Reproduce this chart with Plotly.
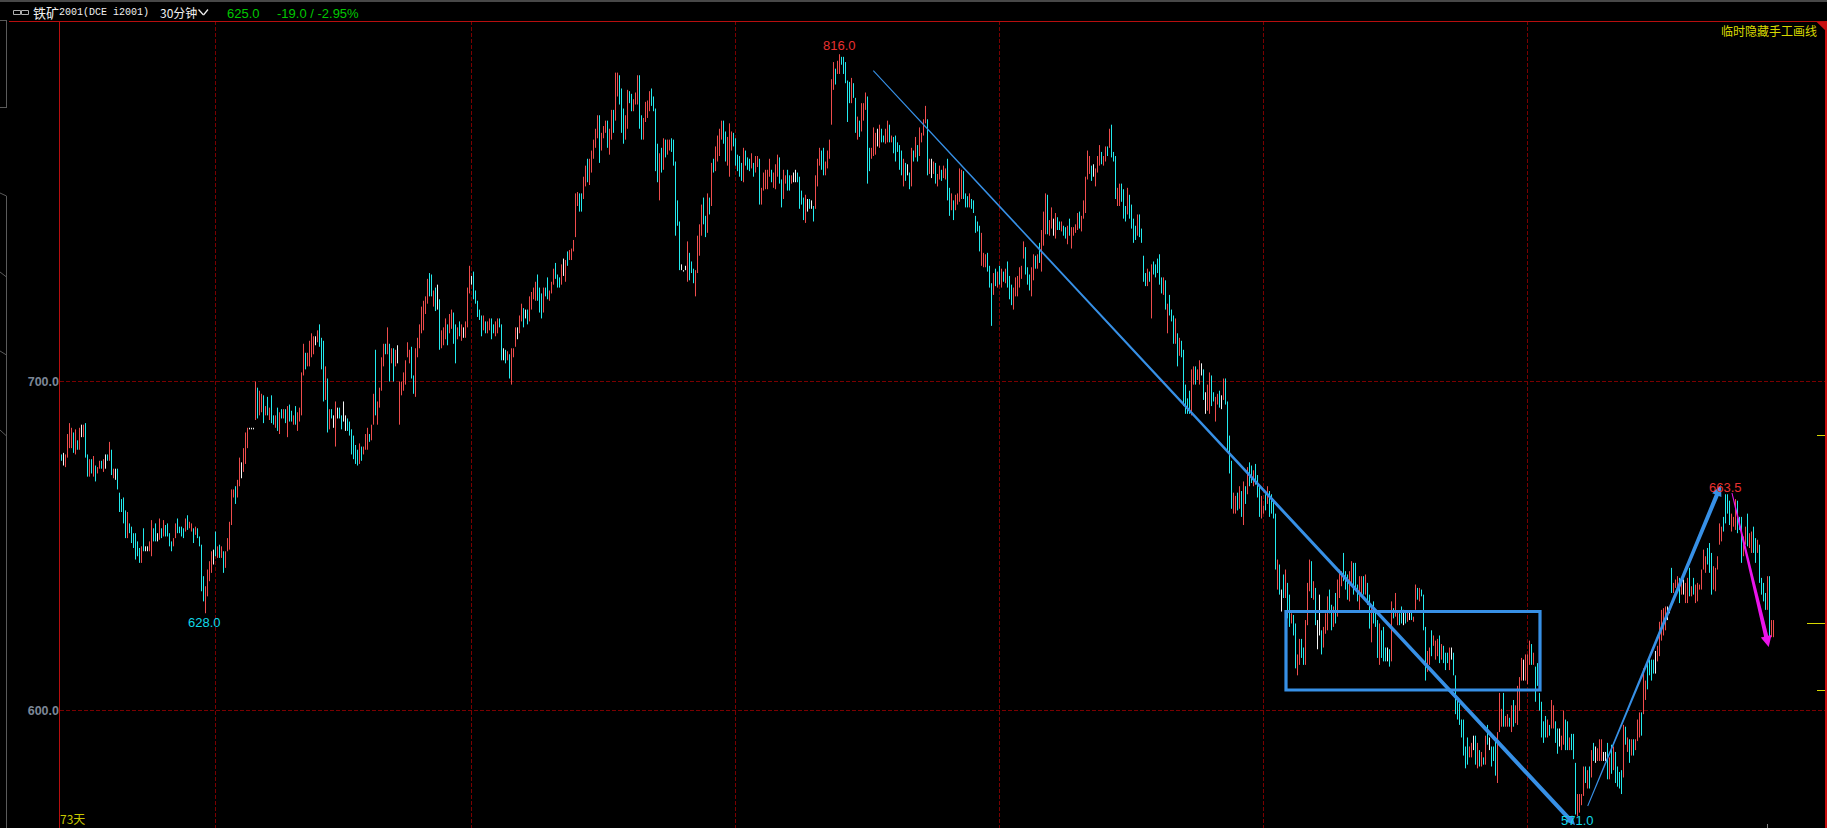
import math
import plotly.graph_objects as go

W, H = 1827, 828
L, T = 60, 21

# ---------- price data, segment by segment: highs, lows, and candle colour (r up, c down, w flat)
a_high = [676.5,677,676.5,683,686.5,685,683.5,684.5,681,685,
686,686,686.5,676.5,675,675,676,673,672.5,674.5,
674.5,675,676.5,676.5,680.5,678,672,672,672,664.5,
662.5,663,659,658.5,655,654,652,652,649.5,647.5,
648,653.5,648,648,649.5,656,653.5,655,652,656.5,
653.5,656,654.5,655,652,649.5,650.5,655,656.5,654,
654,653.5,656.5,657.5,655.5,655,653.5,654,653.5,651,
648.5,639,636,641,643.5,646.5,647,652.5,648,648.5,
648,646.5,646.5,650.5,655.5,665.5,665.5,666.5,668.5,675.5,
674,678.5,683.5,685,685,685,685,700,698,697,
696,695.5,692,695,691.5,695.5,689,689,691.5,690,
691,691,691,692,692.5]
a_low = [674.5,673,672.5,675.5,678.5,678.5,677,676.5,678,678,
682,682,675.5,669.5,669.5,670.5,669.5,668,670.5,672,
672,671,672,674.5,674.5,670,669,668.5,665.5,658.5,
658.5,655,650.5,650.5,652,649,647.5,644,645,643,
643,646.5,646.5,646.5,646.5,645,649.5,649.5,649.5,650,
650.5,651,651,651,648,646.5,648,650.5,652,652,
651,650.5,652.5,653,653.5,652.5,649,651.5,650.5,648,
634.5,631.5,628,633,637.5,640,642.5,645,644.5,644.5,
644.5,640,641.5,646.5,647,654.5,663,661,663,666.5,
669,671,673.5,678.5,684.5,684.5,684.5,687.5,688,689,
690,686.5,689,689,687.5,686.5,686,685,684,683,
688,688,686.5,682,687]
a_kind = ("cwrrrrcrcr" "wrccrcrcrr" "crwcrcrwcc" "cccrcccccc" "rcwwrrccwr" "crccccrrcc"
          "ccrcrrcrcc" "ccrrrrwcrc" "rcrrrrrcrr" "wrrrwwwrcr" "rcrcrccrcr" "crcrc")

b_high = [690.5,689,692,690,691.5,703,712.5,709.5,709.5,713.5,
716,715,715,717,719,714.5,713.5,705,701,691,
691,689,693.5,691.5,691.5,689,693.5,689,688,687,
684.5,682.5,679.5,678,680,679,679,683,685,683,
686,696,710.5,693.5,698,708,712.5,712.5,718,712.5,
711,711,710.5,712,700,700,703,707,713,710.5,
711.5,702,711,714.5,719,725,727,728.5,734.5,736.5,
736,730.5,731.5,732.5,727.5,717,718,721,719,722.5,
724,723,719,718,720,719,718,720,731.5,739,
735.5,737,730.5,727,724,722,722,720,720,721,
721,719,720,721,721,719,711,710.5,710,709,
711,711,718,718,722,726,724.5,724,724,728.5,
730,731.5,733.5,736,731.5,729.5,731.5,731.5,735,730.5,
733.5,738,740,736,735,739.5,741.5,741,744,744.5]
b_low = [687,686,686,684,687,689,702,704,705,705,
708,709,712,713,711.5,704,693.5,694,683.5,684.5,
688,685,679,688,688,684.5,687,684,684,682.5,
676.5,675,673.5,673,673.5,674.5,676.5,678,678,680.5,
681,686,689,686,691.5,697,705,709,709,700,
706,700,705,706,686,695.5,697,699,708,706,
701,696,695,708,711,716,717,722.5,726,728.5,
728.5,725,723.5,724,710.5,711,712,714,712,716,
717.5,712.5,706,714,715,713.5,714.5,714.5,718,729.5,
732.5,727.5,726,721.5,720.5,715,717,716,716,717,
714,716,715,716,718,707,707,706,707,701,
699,708,711.5,714,716,720,718,721,719,720,
724,727.5,727,727,723,721,723,728.5,727.5,727,
729.5,732.5,734.5,731.5,731.5,732.5,735.5,733.5,739,741]
b_kind = ("crcrrrrcrr" "rrwrcccrcr" "cwrwccwwcc" "ccccrcrrrc" "rrcrrrrcrc" "rcrwrrrrrr" "ccrrrrrrrc"
          "crcwcrrrcr" "rccrcrwrrr" "wcccccrcrr" "ccrrccwcrc" "rrrwrrcwcr" "rrrcccrccr" "rrcccrwrcr")

c_high = [745,748,764.5,765,764.5,764.5,770.5,774.5,777,777,
780,784,788,793,793,786.5,789,791,791,788,
795,795,809,809,808,803,795.5,793,802.5,802,
801,799,801.5,808,808,793,792,798,798.5,802,
803,800,795.5,782.5,779,781,784.5,784,784,784,
784.5,784,776,762,754.5,739.5,737.5,739,747.5,743.5,
740.5,738,737.5,749.5,753.5,760.5,763,756.5,764.5,763,
775.5,777,781.5,785.5,788,791,791,787,785,790,
787,786.5,784.5,778.5,778,775.5,781,780,777.5,777,
779,775.5,778,778,777,766.5,772,773,773,777,
773,772,775,778.5,777.5,769.5,773,771,773,771,
771,772,773,772,770.5,765.5,763,764,762.5,762.5,
762,760,771,777,781,780,781,776,780,784]
c_low = [741,744,749,760,758,758,762.5,767,768.5,767.5,
772,777,781,784.5,775.5,780,784.5,786.5,781,778.5,
784,786.5,791,800,797,786.5,782.5,784,788,797.5,
794.5,794.5,797,797,788,784,784,790.5,792,794.5,
796.5,794.5,772.5,768.5,762,772,773,777.5,778.5,780,
779.5,774.5,749.5,753,737.5,737.5,737,737.5,733.5,734,
736.5,733,728.5,736.5,742.5,749.5,753.5,749,750.5,757,
760,772,772.5,776,778,784,782.5,776,774.5,770.5,
780,781.5,774.5,772.5,770.5,769,768.5,774.5,773,772.5,
773.5,770.5,772,774,760.5,760.5,765.5,766,766,770.5,
768.5,766.5,766,770.5,768,759.5,762.5,768,765.5,765.5,
768,768.5,768.5,768.5,759,760.5,755,754,758,759,
759,754.5,759,767,774.5,773,771,771,773.5,777]
c_kind = ("rrrrccrrcr" "rrrrcrrrcr" "rcrrcccrrc" "crrrccrrrr" "ccccrcrcrr" "cccccwwwrc" "ccrrrrccrc"
          "rcrrrrccrr" "rcccccrccc" "rcrrcrrrrr" "crrrccrrcc" "rwwccccrwc" "wcrrrccrrr")

d_high = [806.5,813,810.5,813.5,816,815,815,813,806,805.5,
807,805,799.5,792.5,791,797.5,797.5,801.5,800,781,
781,788.5,786.5,788,789.5,788,785.5,788,791,789.5,
785.5,785,785.5,783,782,780,777,775.5,775,772,
781,780,785,782,788.5,786.5,791.5,796.5,791.5,777,
777,776,775.5,771.5,774.5,773,774.5,773.5]
d_low = [789.5,802.5,804.5,808.5,808.5,812,808.5,805,790.5,797.5,
797.5,799.5,786.5,784,785,787,791,795,768,772.5,
777,778,778.5,781.5,781,783,783,782.5,783,783,
783,779,776,779.5,773,771,767,769,771,766,
767,776,777.5,776,778,783,785.5,790,771,771.5,
770,771.5,768,767,769.5,769,770,769.5]
d_kind = ("rrcrrccccc" "rccrcrrrcc" "rrrwrccrrc" "rcccccrcwc" "rcrcrrrrcr" "wrcrrcrr")

e_high = [777,766.5,764.5,762,764,764.5,773.5,773,772.5,764.5,
763.5,764.5,762.5,762,756.5,754.5,753,750.5,743.5,743,
743.5,739,733,736.5,738,737,739,738,737,738,
740.5,735.5,732.5,731.5,735,735.5,738.5,739,747.5,745.5,
738.5,736,738.5,743,742.5,743,747,751.5,758,764.5,
764,755,759.5,755.5,757.5,756,754.5,754.5,753,752.5,
753,755.5,752.5,752.5,753.5,757.5,758,756.5,762,770.5,
780,778,774.5,775,773.5,778,782,779.5,778,781.5,
781.5,788,789.5,779.5,778,766.5,768,768,766,760,
766.5,764,760.5,755.5,753,757,757,752]
e_low = [762,756.5,758.5,755,758.5,760.5,761.5,762.5,762.5,759.5,
759.5,759.5,759,757.5,750.5,751,744,739,738.5,738.5,
737,731.5,718.5,729,732,731.5,732.5,731.5,733.5,733,
731.5,727.5,725.5,724,728.5,728.5,731.5,734.5,741.5,736,
732.5,730.5,728.5,734,738,738,740,737,746,750,
750,749.5,752,749.5,748.5,751.5,751.5,751,749.5,748.5,
746.5,749.5,745,749.5,750.5,751.5,752,751,755.5,757.5,
769.5,771.5,769,770.5,767,772,774.5,775,774.5,776,
778,781,777.5,776,762.5,760,760,761.5,755.5,754.5,
757,755.5,752,747,748,749.5,749,747]
e_kind = ("ccrcrrrrcc" "crcccccrrr" "cccrcrcrcr" "cccrrrrrrc" "ccrrcrcrrr"
          "crrwrccrcc" "rcrrrrcrrr" "rrcwrrrcrr" "crcccrrccc" "rccccrcc")

f_high = [742.5,736.5,738,737,739.5,740.5,739.5,741.5,743,735,
735,734,726,729,724,722,721,716,714.5,713.5,
710.5,699,694.5,697,704,705,705,704,707,706,
704,696.5,699,703,702,696.5,695,696,697,695.5,
701,701,693.5,682.5,674.5,664.5,663.5,664.5,666.5,665,
668,666.5,672.5,674,673,671.5,673.5,670,667,663.5,
660.5,664,666.5,665,664,662.5]
f_low = [733.5,732,732,733.5,721,736,735,736.5,732.5,729.5,
729,724,716,722,720,712.5,712.5,705,708.5,708,
692,689.5,689.5,689.5,689,699,699,700.5,699,702,
694,689.5,690.5,689.5,692,693.5,687,692.5,691.5,691,
694,692.5,677,670.5,659.5,658,658,659,659.5,657,
654.5,661,664,666.5,667.5,666.5,667,663,657,656.5,
658,659,661,657,658,656.5]
f_kind = ("ccrcrccccc" "rcrcccrcrc" "ccccrrcrrw" "cwrrccrrcw" "rccccrrcrc" "rcrccrcccr" "rcrccc")

g_high = [658,644,642.5,635,639.5,641,637,633.5,628,627.5,
625,616,620.5,620.5,618,626,637,644,643.5,637.5,
635.5,626,633.5,623,624,628,633,635,630.5,630,
634,638,641,640.5,646,640.5,639.5,640.5,643.5,643,
643,636.5,639,639,639,639.5,637,633.5,630.5,631.5,
629,626,625,623,624,618,618,617.5,631.5,629.5,
634,628.5,628,630,629,628.5,628.5,628.5,628.5,627,
636.5,635.5,635.5,635,633.5,624,617,618,623,621.5,
620,620.5,621.5,619,618.5,616.5,616.5,618,618,616.5,
610,603.5,602,597.5,597.5,590,592.5,590,591,593,
593,591,589,588.5,587,593,596,592.5,590,590,
591.5,594,605,600.5,605,598.5,599,598,601.5,603,
601.5,607,609.5,615,614.5,616,616,620,619,616.5,
612.5,613.5,605,602.5,597,598.5,597.5,596,603,601.5,
597,595,595,593,600,597.5,597,592.5,593.5,593.5]
g_low = [641,635,633.5,628.5,632.5,632.5,626.5,624,625,621.5,
612,610,613,615,613,613,624.5,634.5,632.5,632,
624.5,617.5,621.5,616,618,622,623,628,623,624,
625,627,632.5,636,637.5,635,632,631.5,636,633.5,
635,631.5,629,633.5,633.5,633.5,630.5,623.5,619.5,625,
624,615,613,615,614,614,614,612.5,614,626.5,
627,624.5,624.5,625,624.5,625,625.5,626,626,625.5,
629,632,631.5,633,623,608.5,611,613,615.5,618.5,
614.5,615.5,613.5,614.5,613.5,611.5,613.5,611.5,614.5,610,
599,597.5,596,592.5,587.5,584,585,587,587,589,
585,584,584.5,584.5,585,585,590.5,589,584.5,586,
582,580,594,595.5,595.5,595.5,595.5,595.5,594,595.5,
596.5,596,600,608.5,608.5,608.5,607.5,613,613,613,
602.5,607,600,592.5,591,592.5,592.5,593,595,595,
591,588,590,589,590.5,589,589,589,589,586.5]
g_kind = ("crcwcrccrc" "crrccrrrcr" "cwwcrrrccr" "crrrcccrrc" "ccrrcrccrc" "ccrcccwcrc" "rrccwcrwcr"
          "rcrcccrrcr" "rrcrcccrwc" "cccccccrrw" "crcrcrcwcc" "crrrcrrcrc" "rrrrwrrrcr" "ccccccrcrr" "ccwrrccrcc")

h_high = [585.5,577,577,577,584.5,584.5,583.5,584.5,589,591,
590,589.5,592,592,588.5,588.5,591,587,590.5,590,
588.5,584.5,583,583.5,596,595.5,592.5,592,592,592,
592,597.5,599.5,599.5,612,608.5,613.5,614.5,614.5,614.5,
617,618.5,625.5,629,629.5,630,630,630,641.5,637,
638,639,638.5,638,638,637,638.5,641.5,636,638.5,
636.5,637,636.5,641,647,645,647.5,649,646,642,
641.5,645,655,654,657,664,664,662,658,657,
662.5,662,657,657,651,654,658,652,652.5,654,
650.5,650,648.5,638.5,637,634,639,639,626,626]
h_low = [571.5,571,572,574,576.5,580,578.5,578.5,581.5,586,
585.5,586,586,586,586,586,581,581,582.5,583.5,
580,579,578.5,577,581.5,590.5,588.5,585.5,587.5,587.5,
589,591.5,592.5,593,599,603,606,610,608.5,610.5,
610.5,614,615.5,620,621.5,623,626,628,634,634,
635.5,634,631,633.5,633.5,631,631,633,633,633.5,
631,631.5,635,635,641,640,642.5,640,633.5,635,
634.5,641,648.5,649.5,652.5,655,658,654.5,652.5,654,
653,652,653,643,645,648.5,648,647.5,646,646,
643,646,637,633.5,631.5,629,629,621,621,621]
h_kind = ("crrrrcrcrc" "wrrrwwcrcr" "ccccrcrcrc" "rrrcrrcccc" "wrrrrrwwcr"
          "rrcrwrrcrc" "rrrrrrcccr" "rrrrccccrr" "rcccrrcrrc" "crccccrcrr")

highs = a_high + b_high + c_high + d_high + e_high + f_high + g_high + h_high
lows = a_low + b_low + c_low + d_low + e_low + f_low + g_low + h_low
kinds = a_kind + b_kind + c_kind + d_kind + e_kind + f_kind + g_kind + h_kind
bars = list(range(len(highs)))

tick_prices = [600, 700]
tick_labels = ["600.0", "700.0"]
month_bars = [77, 205, 337, 469, 601, 733]

RED, CYAN, WHITE = "#EE4C4C", "#22EAEE", "#F4F4F4"

idx_coloured = [i for i in bars if kinds[i] != "w"]
idx_white = [i for i in bars if kinds[i] == "w"]


def ohlc(idx, up, down):
    return go.Ohlc(
        x=idx,
        open=[lows[i] if kinds[i] != "c" else highs[i] for i in idx],
        high=[highs[i] for i in idx],
        low=[lows[i] for i in idx],
        close=[highs[i] if kinds[i] != "c" else lows[i] for i in idx],
        tickwidth=0,
        increasing=dict(line=dict(color=up, width=1)),
        decreasing=dict(line=dict(color=down, width=1)),
        hoverinfo="skip",
        showlegend=False,
    )


fig = go.Figure([ohlc(idx_coloured, RED, CYAN), ohlc(idx_white, WHITE, WHITE)])


def px(x):
    return (x - L) / (W - L)


def py(y):
    return 1 - (y - T) / (H - T)


def poly(points, color, **kw):
    path = "M " + " L ".join(f"{px(a):.5f},{py(b):.5f}" for a, b in points) + " Z"
    return dict(type="path", xref="paper", yref="paper", path=path, fillcolor=color,
                line=dict(width=0), layer="above", **kw)


def seg(x0, y0, x1, y1, color, width=1, layer="above"):
    return dict(type="line", xref="paper", yref="paper", x0=px(x0), y0=py(y0), x1=px(x1), y1=py(y1),
                line=dict(color=color, width=width), layer=layer)


def arrow(x0, y0, x1, y1, w0, w1, hw, hl, color):
    d = math.hypot(x1 - x0, y1 - y0)
    ux, uy = (x1 - x0) / d, (y1 - y0) / d
    nx, ny = -uy, ux
    bx, by = x1 - ux * hl, y1 - uy * hl
    return poly([
        (x0 + nx * w0 / 2, y0 + ny * w0 / 2),
        (bx + nx * w1 / 2, by + ny * w1 / 2),
        (bx + nx * hw / 2, by + ny * hw / 2),
        (x1, y1),
        (bx - nx * hw / 2, by - ny * hw / 2),
        (bx - nx * w1 / 2, by - ny * w1 / 2),
        (x0 - nx * w0 / 2, y0 - ny * w0 / 2),
    ], color)


BLUE = "#3790E6"
MAGENTA = "#EA14EA"
AXRED = "#B80E0E"
YEL = "#D8D800"
GRAY = "#5A5A5A"

shapes = [
    # frame
    seg(0, 1, W, 1, "#484848", 2),
    seg(9, 21.5, W, 21.5, AXRED, 1),
    seg(59.5, 21, 59.5, H, AXRED, 1),
    seg(1826, 21, 1826, H, "#C81010", 2),
    poly([(1816.7, 22), (W, 22), (W, 32)], "#C81010"),
    # left gutter
    seg(0, 20.5, 6.5, 20.5, GRAY), seg(6.5, 20, 6.5, 108, GRAY), seg(0, 107.5, 6.5, 107.5, GRAY),
    seg(6.5, 196, 6.5, H, GRAY),
    seg(0, 193, 6.5, 196, GRAY), seg(0, 272, 6.5, 277, GRAY),
    seg(0, 351, 6.5, 355, GRAY), seg(0, 430, 6.5, 436, GRAY),
    # yellow right ticks and small grey tick
    seg(1817, 435.5, 1825, 435.5, YEL), seg(1807, 623.5, 1825, 623.5, YEL), seg(1817, 690.5, 1825, 690.5, YEL),
    seg(1767.5, 824, 1767.5, H, "#808080"),
    # link icon
    dict(type="rect", xref="paper", yref="paper", x0=px(13.5), x1=px(20.5), y0=py(10.5), y1=py(14.5),
         line=dict(color="#B0B0B0", width=1)),
    dict(type="rect", xref="paper", yref="paper", x0=px(21.5), x1=px(28.5), y0=py(10.5), y1=py(14.5),
         line=dict(color="#B0B0B0", width=1)),
    # chevron
    seg(198.5, 9.5, 203.5, 15, "#F0F0F0", 1.2), seg(203.5, 15, 208, 9.5, "#F0F0F0", 1.2),
    # drawn box and arrows
    dict(type="rect", xref="paper", yref="paper", x0=px(1286), x1=px(1540), y0=py(611.5), y1=py(690),
         line=dict(color=BLUE, width=3.2), layer="above"),
    arrow(873.3, 70.7, 1575, 825, 1.0, 4.2, 9, 9, BLUE),
    arrow(1587.7, 806, 1721, 485, 1.0, 4.2, 10, 11, BLUE),
    arrow(1732, 493, 1768.7, 647, 1.0, 4.2, 11, 11, MAGENTA),
]


def text(x, y, s, color, size, family="Liberation Sans", anchor="center", weight=None):
    return dict(xref="paper", yref="paper", x=px(x), y=py(y), text=s, showarrow=False,
                xanchor=anchor, yanchor="middle", borderpad=0, borderwidth=0,
                font=dict(color=color, size=size, family=family, weight=weight))


CJK = "Noto Sans CJK SC"
GREEN = "#00C800"
annotations = [
    text(33, 12, "铁矿", "#F0F0F0", 13, CJK, "left"),
    text(59, 12, "2001(DCE i2001)", "#F0F0F0", 10, "Liberation Mono", "left"),
    text(160, 12, "30分钟", "#F0F0F0", 12, CJK, "left"),
    text(227, 13.5, "625.0", GREEN, 13, "Liberation Sans", "left"),
    text(277, 13.5, "-19.0 / -2.95%", GREEN, 13, "Liberation Sans", "left"),
    text(1816.5, 30, "临时隐藏手工画线", YEL, 12, CJK, "right"),
    text(839, 45.5, "816.0", "#E83030", 13),
    text(204.5, 622, "628.0", "#10D8E8", 13),
    text(1725, 487, "663.5", "#E83030", 13),
    text(1577, 820, "571.0", "#10D8E8", 13),
    text(60, 818, "73天", "#C8C800", 12, CJK, "left"),
]

fig.update_layout(
    width=W, height=H, autosize=False,
    margin=dict(l=L, r=0, t=T, b=0, pad=0),
    paper_bgcolor="#000000", plot_bgcolor="#000000",
    showlegend=False, dragmode=False, hovermode=False,
    shapes=shapes, annotations=annotations,
    xaxis=dict(
        range=[-0.75, -0.75 + (W - L) / 2], rangeslider=dict(visible=False), type="linear",
        tickvals=month_bars, showticklabels=False, ticks="", zeroline=False, showline=False,
        showgrid=True, gridcolor="#7A0000", gridwidth=1, griddash="4px,2px",
    ),
    yaxis=dict(
        type="log", range=[math.log10(567.9), math.log10(828.8)],
        tickvals=tick_prices, ticktext=tick_labels, ticks="", zeroline=False, showline=False,
        tickfont=dict(color="#7C8797", size=12.5, family="Liberation Sans", weight="bold"),
        showgrid=True, gridcolor="#7A0000", gridwidth=1, griddash="4px,2px",
    ),
)

fig.write_html("out.html", config=dict(displayModeBar=False),
               post_script="document.body.style.margin='0';document.body.style.overflow='hidden';document.body.style.background='#000';")
